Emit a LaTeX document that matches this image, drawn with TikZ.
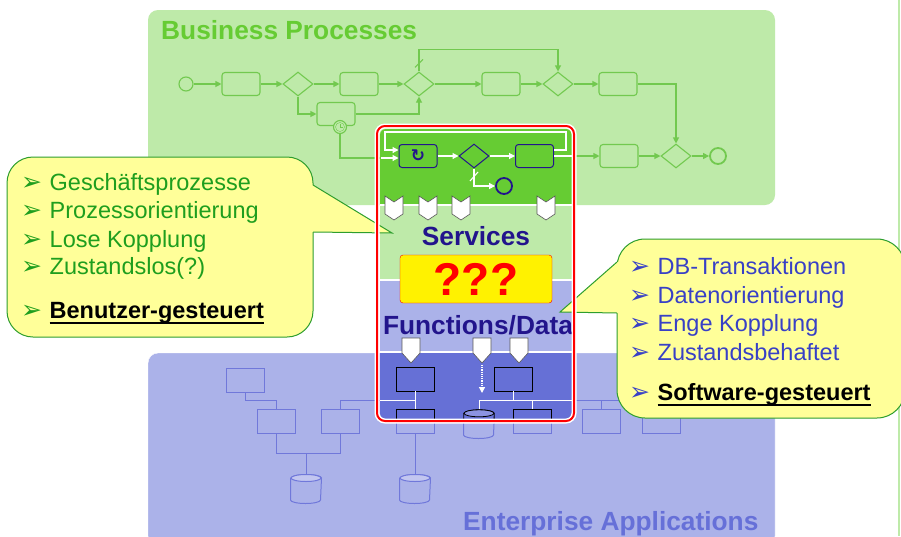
\documentclass[tikz,border=0pt]{standalone}
\usepackage{fontspec}
\setmainfont{Liberation Sans}
\newfontfamily\symfont{DejaVu Sans}
\usetikzlibrary{arrows.meta,shapes.geometric,positioning}

\definecolor{bpfill}{HTML}{BEEAA9}
\definecolor{bpline}{HTML}{72C94F}
\definecolor{bptitle}{HTML}{66CC33}
\definecolor{eafill}{HTML}{ABB2E9}
\definecolor{ealine}{HTML}{7078DA}
\definecolor{eatop}{HTML}{C2C6F0}
\definecolor{eatitle}{HTML}{6670D8}
\definecolor{svgreen}{HTML}{66CC33}
\definecolor{fnblue}{HTML}{6670D6}
\definecolor{fntop}{HTML}{8C93E2}
\definecolor{ink}{HTML}{22148C}
\definecolor{notefill}{HTML}{FFFF99}
\definecolor{noteline}{HTML}{2E9E2E}
\definecolor{notegreen}{HTML}{1E9E1E}
\definecolor{noteblue}{HTML}{3840C6}

\newcommand\notebullet{\makebox[28.5pt][l]{\symfont\fontsize{25}{25}\selectfont ➢}}

% cylinder drawn round an empty node of the same size
\newcommand\drawstore[2][]{%
  \draw[#1] ([yshift=-3.5pt]#2.north west) -- ([yshift=3.5pt]#2.south west)
    arc[start angle=180, end angle=360, x radius=15pt, y radius=3.5pt]
    -- ([yshift=-3.5pt]#2.north east)
    arc[start angle=0, end angle=180, x radius=15pt, y radius=3.5pt] -- cycle;
  \draw[#1, fill=storetop] ([yshift=-3.5pt]#2.north) ellipse[x radius=15pt, y radius=3.5pt];}

\tikzset{
  task/.style={draw, rounded corners=3pt, minimum width=38pt, minimum height=23pt, inner sep=0pt},
  gate/.style={draw, diamond, minimum width=30pt, minimum height=24pt, inner sep=0pt},
  event/.style={draw, circle, minimum size=14pt, inner sep=0pt},
  conn/.style={line width=1.1pt},
  seqflow/.style={conn, -{Triangle[length=6pt,width=6pt]}},
  appbox/.style={draw, minimum width=38pt, minimum height=24pt, inner sep=0pt},
  store/.style={minimum width=30pt, minimum height=28pt, inner sep=0pt},
  heading/.style={font=\bfseries\fontsize{26.3}{30}\selectfont, inner sep=0pt},
  item/.style={font=\fontsize{23.5}{28}\selectfont, anchor=base west, inner sep=0pt},
  note/.style={draw=noteline, fill=notefill, line width=1pt},
}

\begin{document}
\begin{tikzpicture}[x=1pt,y=-1pt]
  \useasboundingbox[fill=white] (0,0) rectangle (901,536);
  \draw[bpfill, line width=1.5pt] (899,0) -- (899,536);

  % business processes
  \fill[bpfill, rounded corners=10pt] (148,10) rectangle (775,205);
  \node[heading, bptitle, anchor=base west] (bptext) at (161,39) {Business Processes};

  \begin{scope}[bpline]
    \node[event, conn] (start) at (186,84) {};
    \node[task, conn] (t1) at (241,84) {};
    \node[gate, conn] (g1) at (298,84) {};
    \node[task, conn] (t2) at (359,84) {};
    \node[gate, conn] (g2) at (419,84) {};
    \node[task, conn] (t3) at (501,84) {};
    \node[gate, conn] (g3) at (558,84) {};
    \node[task, conn] (t4) at (618,84) {};
    \node[task, conn] (tlow) at (336,114) {};
    \node[event, conn, fill=bpfill, minimum size=13pt] (timer) at (340,127) {};
    \draw (timer.center) circle[radius=4.5pt];
    \draw (timer.center) -- ++(0,-3.5) (timer.center) -- ++(2.5,0);
    \node[task, conn] (t5) at (619,156) {};
    \node[gate, conn] (g4) at (676,156) {};
    \node[event, line width=1.8pt, minimum size=16pt] (stop) at (718,156) {};
    \coordinate (svin) at (381,158);
    \coordinate (svout) at (572,156);

    \draw[seqflow] (start) -- (t1);
    \draw[seqflow] (t1) -- (g1);
    \draw[seqflow] (g1) -- (t2);
    \draw[seqflow] (t2) -- (g2);
    \draw[seqflow] (g2) -- (t3);
    \draw[seqflow] (t3) -- (g3);
    \draw[seqflow] (g3) -- (t4);
    \draw[seqflow] (g1.south) |- (tlow.west);
    \draw[seqflow] (tlow.east) -| (g2.south);
    \draw[seqflow] (g2.north) -- ++(0,-22) -| (g3.north);
    \draw[conn] ([xshift=-4pt,yshift=4pt]g2.north) -- ++(8pt,8pt);
    \draw[seqflow] (t4.east) -| (g4.north);
    \draw[conn] (timer.south) |- (svin);
    \draw[seqflow] (svout) -- (t5);
    \draw[seqflow] (t5) -- (g4);
    \draw[seqflow] (g4) -- (stop);
  \end{scope}

  % enterprise applications
  \filldraw[eafill, draw=white, rounded corners=10pt] (148,353) rectangle (775,546);
  \node[heading, eatitle, anchor=base west] (eatext) at (463,530) {Enterprise Applications};

  \begin{scope}[ealine, line width=1pt]
    \colorlet{storetop}{eatop}
    \node[appbox] (e1) at (245,380) {};
    \node[appbox] (e2) at (276,421) {};
    \node[appbox] (e3) at (340,421) {};
    \node[store] (db1) at (306,489) {};
    \node[store] (db2) at (415,489) {};
    \node[appbox] (e4) at (601,421) {};
    \node[appbox] (e5) at (661,421) {};
    \node[appbox] (fc) at (415,421) {};
    \node[store] (fdb) at (479,424) {};
    \node[appbox] (fe) at (532.5,421) {};
    \drawstore{db1}
    \drawstore{db2}
    \drawstore{fdb}
    \coordinate (busl) at (415,400);
    \coordinate (busr) at (479,400);

    \draw (e1.south) -- ++(0,8) -| (e2.north);
    \draw (e2.south) -- ++(0,20) coordinate (j1) -| (e3.south);
    \draw (db1.north) -- (db1.north |- j1);
    \draw (e3.north) |- (busl);
    \draw (fc.south) -- (db2.north);
    \draw (busr) -| (e5.north);
    \draw (e4.north) -- (e4.north |- busr);
    \draw (fdb.north) -- (fdb.north |- busr);
    \draw (fe.north) -- (fe.north |- busr);
  \end{scope}

  % services / functions column
  \begin{scope}
    \clip[rounded corners=6pt] (380,129) rectangle (572,419);
    \fill[svgreen] (380,129) rectangle (572,205);
    \fill[bpfill] (380,205) rectangle (572,280);
    \fill[eafill] (380,280) rectangle (572,352);
    \fill[fnblue] (380,352) rectangle (572,419);
    \draw[white, line width=1.2pt] (380,205) -- (572,205) (380,280) -- (572,280) (380,352) -- (572,352);

    \node[task, draw=ink, line width=1pt, text=ink, font=\symfont\bfseries\fontsize{17}{17}\selectfont] (loop) at (418,156) {↻};
    \node[gate, draw=ink, line width=1pt] (sgate) at (474,156) {};
    \node[task, draw=ink, line width=1pt] (stask) at (534.5,156) {};
    \node[event, draw=ink, line width=1.8pt, minimum size=16pt] (sstop) at (504,186) {};

    \draw[seqflow, white] (svin) -- (loop.west |- svin);
    \draw[seqflow, white] (loop) -- (sgate);
    \draw[seqflow, white] (sgate) -- (stask);
    \draw[conn, white] (stask.east) -- (svout);
    \draw[seqflow, white] ([yshift=6pt]stask.east) -- ++(12,0) |- (385,132) |- ([yshift=6pt]loop.west);
    \draw[seqflow, white] (sgate.south) |- (sstop.west);
    \draw[conn, white] (470,181) -- (478,172);

    \foreach \x in {394,428,461,546}
      \draw[fill=white, draw=gray!70!black, line width=0.6pt]
        (\x-9,196) -- (\x,202) -- (\x+9,196) -- (\x+9,214) -- (\x,220) -- (\x-9,214) -- cycle;
    \foreach \x in {411,482,519}
      \draw[fill=white, draw=gray!70!black, line width=0.6pt]
        (\x-9,338) -- (\x+9,338) -- (\x+9,353) -- (\x,363) -- (\x-9,353) -- cycle;

    \node[appbox, draw=black, fill=fnblue] (fa) at (415,379) {};
    \node[appbox, draw=black, fill=fnblue] (fb) at (513.5,379) {};
    \draw[white] (fa) -- (415,409);
    \draw[white] (e3.north |- busl) -- (busl);
    \draw[white] (fb.south) -- (fb.south |- busr);
    \draw[white] (busr) -- (e5.north |- busr);
    \draw[white] (fdb.north) -- (fdb.north |- busr);
    \draw[white] (fe.north) -- (fe.north |- busr);
    \node[appbox, draw=black, fill=fnblue] (fcin) at (415,421) {};
    \node[store] (fdbin) at (479,424) {};
    \colorlet{storetop}{fntop}
    \drawstore[black, fill=fnblue, line width=0.8pt]{fdbin}
    \node[appbox, draw=black, fill=fnblue] (fein) at (532.5,421) {};

    \coordinate (dtop) at (482,365);
    \coordinate (dend) at (482,393);
    \draw[white, densely dotted, line width=1.2pt, -{Triangle[length=6pt,width=6pt]}] (dtop) -- (dend);
  \end{scope}

  \node[heading, ink, anchor=base] (svtext) at (476,245) {Services};
  \node[draw=red, fill=yellow, rounded corners=3pt, minimum width=152pt, minimum height=48pt,
        text=red, font=\bfseries\fontsize{46}{46}\selectfont, inner sep=0pt] (qbox) at (476,279) {???};
  \node[heading, ink, anchor=base] (fntext) at (478,334) {Functions/Data};

  % left callout
  \node[note, rounded corners=26pt, minimum width=306pt, minimum height=180pt] (leftnote) at (160,247) {};
  \coordinate (lefttip) at (392,233);
  \fill[notefill] (313,185) -- (lefttip) -- (313,232) -- (308,232) -- (308,185) -- cycle;
  \draw[noteline, line width=1pt] (313,185) -- (lefttip) -- (313,232);
  \begin{scope}[notegreen]
    \node[item] (l1) at (21,190) {\notebullet Geschäftsprozesse};
    \node[item] (l2) at (21,218) {\notebullet Prozessorientierung};
    \node[item] (l3) at (21,247) {\notebullet Lose Kopplung};
    \node[item] (l4) at (21,274) {\notebullet Zustandslos(?)};
  \end{scope}
  \node[item] (l5) at (21,318) {{\color{notegreen}\notebullet}\textbf{Benutzer-gesteuert}};
  \draw[line width=1.8pt] ([xshift=28.5pt,yshift=-5pt]l5.base west) -- ([yshift=-5pt]l5.base east);

  % right callout
  \node[note, rounded corners=28pt, minimum width=288pt, minimum height=179pt] (rightnote) at (761,328.5) {};
  \coordinate (righttip) at (560,312);
  \fill[notefill] (617,262) -- (righttip) -- (617,313) -- (622,313) -- (622,262) -- cycle;
  \draw[noteline, line width=1pt] (617,262) -- (righttip) -- (617,313);
  \begin{scope}[noteblue]
    \node[item] (r1) at (629,274) {\notebullet DB-Transaktionen};
    \node[item] (r2) at (629,303) {\notebullet Datenorientierung};
    \node[item] (r3) at (629,331) {\notebullet Enge Kopplung};
    \node[item] (r4) at (629,360) {\notebullet Zustandsbehaftet};
  \end{scope}
  \node[item] (r5) at (629,400) {{\color{noteblue}\notebullet}\textbf{Software-gesteuert}};
  \draw[line width=1.8pt] ([xshift=28.5pt,yshift=-5pt]r5.base west) -- ([yshift=-5pt]r5.base east);

  % frame of the middle column
  \node[draw=red, line width=2pt, rounded corners=8pt, preaction={draw=white, line width=5pt},
        minimum width=197pt, minimum height=295pt] (svbox) at (475.5,273.5) {};
\end{tikzpicture}
\end{document}
